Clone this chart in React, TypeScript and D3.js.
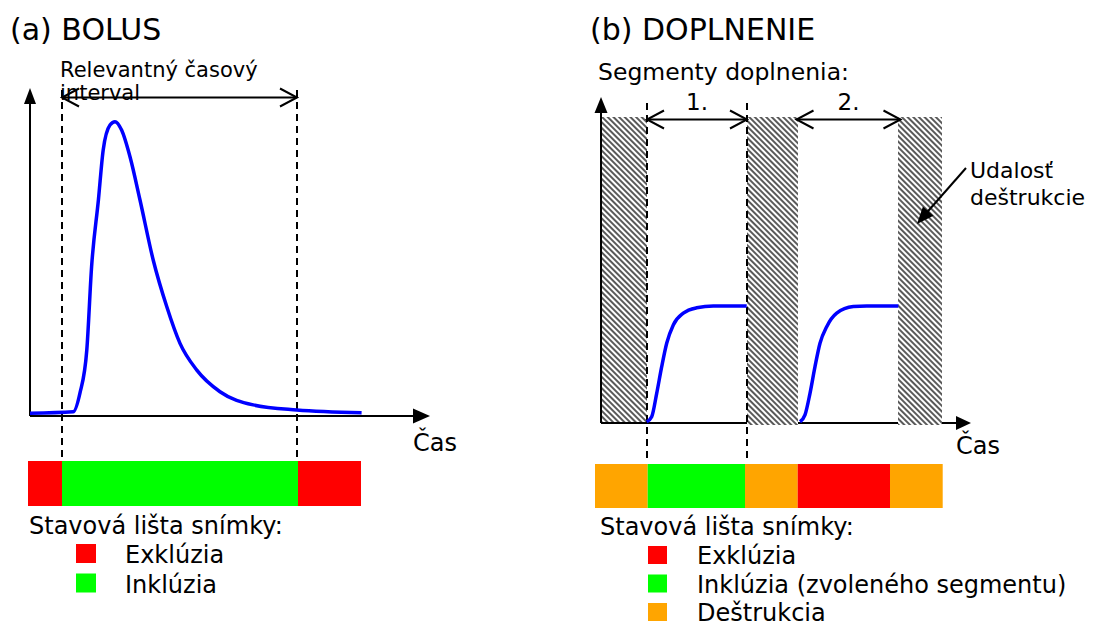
import React from 'react';
import * as d3 from 'd3';

// ---- panel (a) BOLUS : time 0..100, intensity 0..100
const bolusTime = [0, 10.8, 12.5, 14.2, 15.4, 17.1, 18.3, 20, 21.25, 22.9, 25, 27.5, 30.8, 34.2, 37.5, 41.7, 47.5, 55.8, 66.7, 82.9];
const bolusValue = [0.9, 1.4, 7.7, 22, 49.8, 72, 88.7, 97, 98.1, 95.3, 86.4, 72, 52, 36.4, 24.2, 15.3, 8.1, 3.7, 2, 1.1];
const bolusInterval = [8, 66.75];
const bolusBarStart = [-0.5, 8, 67];
const bolusBarEnd = [8, 67, 82.75];
const bolusBarState = ['excl', 'incl', 'excl'];

// ---- panel (b) DOPLNENIE : time 0..74, intensity 0..100
const seg1Time = [9.14, 10.14, 11.14, 12.14, 13.14, 14.46, 16.46, 19.14, 22.46, 29.14];
const seg1Value = [0.4, 2.1, 9.9, 18.8, 26.6, 32.7, 36.6, 38.4, 39, 39];
const seg2Time = [39.8, 40.8, 41.8, 42.8, 43.8, 45.14, 47.14, 50.46, 53.14, 59.46];
const seg2Value = [0.4, 2.7, 9.9, 18.8, 26.6, 32.1, 36.6, 38.8, 39, 39];
const destructionStart = [0, 29.2, 59.4];
const destructionEnd = [9.2, 39.4, 68.2];
const segmentLabels = ['1.', '2.'];
const segmentStart = [9.2, 39.1];
const segmentEnd = [29.2, 59.9];
const refillBarStart = [-1.2, 9.34, 28.8, 39.34, 57.8];
const refillBarEnd = [9.34, 28.8, 39.34, 57.8, 68.34];
const refillBarState = ['destr', 'incl', 'destr', 'excl', 'destr'];

// ---- legends
const legendA = ['Exklúzia', 'Inklúzia'];
const legendAState = ['excl', 'incl'];
const legendB = ['Exklúzia', 'Inklúzia (zvoleného segmentu)', 'Deštrukcia'];
const legendBState = ['excl', 'incl', 'destr'];

const stateColor: Record<string, string> = { excl: '#ff0000', incl: '#00ff00', destr: '#ffa500' };
const FONT = '"DejaVu Sans", Verdana, sans-serif';
const BLUE = '#0000ff';

// filled arrow head, tip at (x,y), pointing along angle (radians)
const headPath = (x: number, y: number, ang: number, len = 16, half = 7) => {
  const bx = x - len * Math.cos(ang);
  const by = y - len * Math.sin(ang);
  const px = -Math.sin(ang) * half;
  const py = Math.cos(ang) * half;
  return `M${x},${y}L${bx + px},${by + py}L${bx - px},${by - py}Z`;
};

// open double-headed arrow
const DoubleArrow = ({ x1, x2, y }: { x1: number; x2: number; y: number }) => (
  <g stroke="#000" strokeWidth={2} fill="none">
    <line x1={x1} x2={x2} y1={y} y2={y} />
    <path d={`M${x1 + 17},${y - 9}L${x1},${y}L${x1 + 17},${y + 9}`} />
    <path d={`M${x2 - 17},${y - 9}L${x2},${y}L${x2 - 17},${y + 9}`} />
  </g>
);

export default function App() {
  // panel a scales
  const xA = d3.scaleLinear().domain([0, 100]).range([30, 430]);
  const yA = d3.scaleLinear().domain([0, 100]).range([416, 116]);
  // panel b scales
  const xB = d3.scaleLinear().domain([0, 74]).range([601, 971]);
  const yB = d3.scaleLinear().domain([0, 100]).range([423, 123]);

  const lineA = d3
    .line<number>()
    .x((d) => xA(d))
    .y((_d, i) => yA(bolusValue[i]))
    .curve(d3.curveMonotoneX);

  const lineB = (ts: number[], vs: number[]) =>
    d3
      .line<number>()
      .x((d) => xB(d))
      .y((_d, i) => yB(vs[i]))
      .curve(d3.curveMonotoneX)(ts) || '';

  const axisA = { x0: xA(0), y0: yA(0), top: 88, right: xA(100) };
  const axisB = { x0: xB(0), y0: yB(0), top: 97, right: xB(74) };
  const hatchTop = 117;

  return (
    <div style={{ position: 'absolute', left: 0, top: 0 }}>
      <svg width={1096} height={625} style={{ display: 'block', fontFamily: FONT }}>
        <defs>
          <pattern id="hatch" patternUnits="userSpaceOnUse" width={4} height={4} patternTransform="rotate(45)">
            <rect width={4} height={4} fill="#fff" />
            <line x1={0} x2={4} y1={1} y2={1} stroke="#000" strokeWidth={1.3} />
          </pattern>
        </defs>
        <rect width={1096} height={625} fill="#fff" />

        {/* ================= (a) BOLUS ================= */}
        <text x={10} y={40} fontSize={30}>(a) BOLUS</text>
        <text x={60} y={77} fontSize={21}>Relevantný časový</text>
        <text x={60} y={100} fontSize={21}>interval</text>

        {/* axes */}
        <line x1={axisA.x0} x2={axisA.x0} y1={axisA.y0} y2={axisA.top + 10} stroke="#000" strokeWidth={2} />
        <path d={headPath(axisA.x0, axisA.top, -Math.PI / 2, 16, 6)} fill="#000" />
        <line x1={axisA.x0} x2={axisA.right - 10} y1={axisA.y0} y2={axisA.y0} stroke="#000" strokeWidth={2} />
        <path d={headPath(axisA.right, axisA.y0, 0, 17, 7.5)} fill="#000" />
        <text x={413} y={451} fontSize={24}>Čas</text>

        {/* relevant interval */}
        {bolusInterval.map((t, i) => (
          <line key={i} x1={xA(t)} x2={xA(t)} y1={90} y2={461} stroke="#000" strokeWidth={2} strokeDasharray="7,5" />
        ))}
        <DoubleArrow x1={xA(bolusInterval[0])} x2={xA(bolusInterval[1])} y={97.5} />

        {/* bolus curve */}
        <path d={lineA(bolusTime) || ''} fill="none" stroke={BLUE} strokeWidth={3.5} strokeLinejoin="round" />

        {/* status bar */}
        {bolusBarStart.map((s, i) => (
          <rect key={i} x={xA(s)} y={461} width={xA(bolusBarEnd[i]) - xA(s)} height={45} fill={stateColor[bolusBarState[i]]} />
        ))}

        {/* legend */}
        <text x={29} y={534} fontSize={24}>Stavová lišta snímky:</text>
        {legendA.map((lab, i) => (
          <g key={lab} transform={`translate(0,${i * 29.5})`}>
            <rect x={76} y={544} width={20} height={19} fill={stateColor[legendAState[i]]} />
            <text x={125} y={563} fontSize={24}>{lab}</text>
          </g>
        ))}

        {/* ================= (b) DOPLNENIE ================= */}
        <text x={590} y={40} fontSize={30}>(b) DOPLNENIE</text>
        <text x={598} y={80} fontSize={23.5}>Segmenty doplnenia:</text>

        {/* first destruction block sits under the axes */}
        <rect
          x={xB(destructionStart[0])}
          y={hatchTop}
          width={xB(destructionEnd[0]) - xB(destructionStart[0])}
          height={axisB.y0 - hatchTop + 1}
          fill="url(#hatch)"
        />

        {/* axes */}
        <line x1={axisB.x0} x2={axisB.x0} y1={axisB.y0} y2={axisB.top + 10} stroke="#000" strokeWidth={2} />
        <path d={headPath(axisB.x0, axisB.top, -Math.PI / 2, 16, 6.5)} fill="#000" />
        <line x1={axisB.x0} x2={axisB.right - 10} y1={axisB.y0} y2={axisB.y0} stroke="#000" strokeWidth={2} />
        <path d={headPath(axisB.right, axisB.y0, 0, 15, 7)} fill="#000" />
        <text x={956} y={454} fontSize={24}>Čas</text>

        {/* later destruction blocks cover the axis */}
        {destructionStart.slice(1).map((s, i) => (
          <rect
            key={i}
            x={xB(s)}
            y={hatchTop}
            width={xB(destructionEnd[i + 1]) - xB(s)}
            height={axisB.y0 - hatchTop + 2}
            fill="url(#hatch)"
          />
        ))}

        {/* chosen segment bounds */}
        {[segmentStart[0], segmentEnd[0]].map((t, i) => (
          <line key={i} x1={xB(t)} x2={xB(t)} y1={103} y2={463} stroke="#000" strokeWidth={2} strokeDasharray="7,5" />
        ))}

        {/* segment arrows */}
        {segmentLabels.map((lab, i) => (
          <g key={lab}>
            <DoubleArrow x1={xB(segmentStart[i])} x2={xB(segmentEnd[i])} y={119.5} />
            <text x={(xB(segmentStart[i]) + xB(segmentEnd[i])) / 2} y={110} fontSize={23} textAnchor="middle">
              {lab}
            </text>
          </g>
        ))}

        {/* refill curves */}
        <path d={lineB(seg1Time, seg1Value)} fill="none" stroke={BLUE} strokeWidth={3.5} strokeLinejoin="round" />
        <path d={lineB(seg2Time, seg2Value)} fill="none" stroke={BLUE} strokeWidth={3.5} strokeLinejoin="round" />

        {/* destruction event annotation */}
        <line x1={966} y1={168} x2={922} y2={218} stroke="#000" strokeWidth={2} />
        <path d={headPath(917, 224, Math.atan2(224 - 168, 917 - 966), 17, 7)} fill="#000" />
        <text x={970} y={178} fontSize={22}>Udalosť</text>
        <text x={970} y={205} fontSize={22}>deštrukcie</text>

        {/* status bar */}
        {refillBarStart.map((s, i) => (
          <rect key={i} x={xB(s)} y={464} width={xB(refillBarEnd[i]) - xB(s)} height={44} fill={stateColor[refillBarState[i]]} />
        ))}

        {/* legend */}
        <text x={600} y={535} fontSize={24}>Stavová lišta snímky:</text>
        {legendB.map((lab, i) => (
          <g key={lab} transform={`translate(0,${i * 28.5})`}>
            <rect x={648} y={546} width={19} height={18} fill={stateColor[legendBState[i]]} />
            <text x={697} y={564} fontSize={24}>{lab}</text>
          </g>
        ))}
      </svg>
    </div>
  );
}
